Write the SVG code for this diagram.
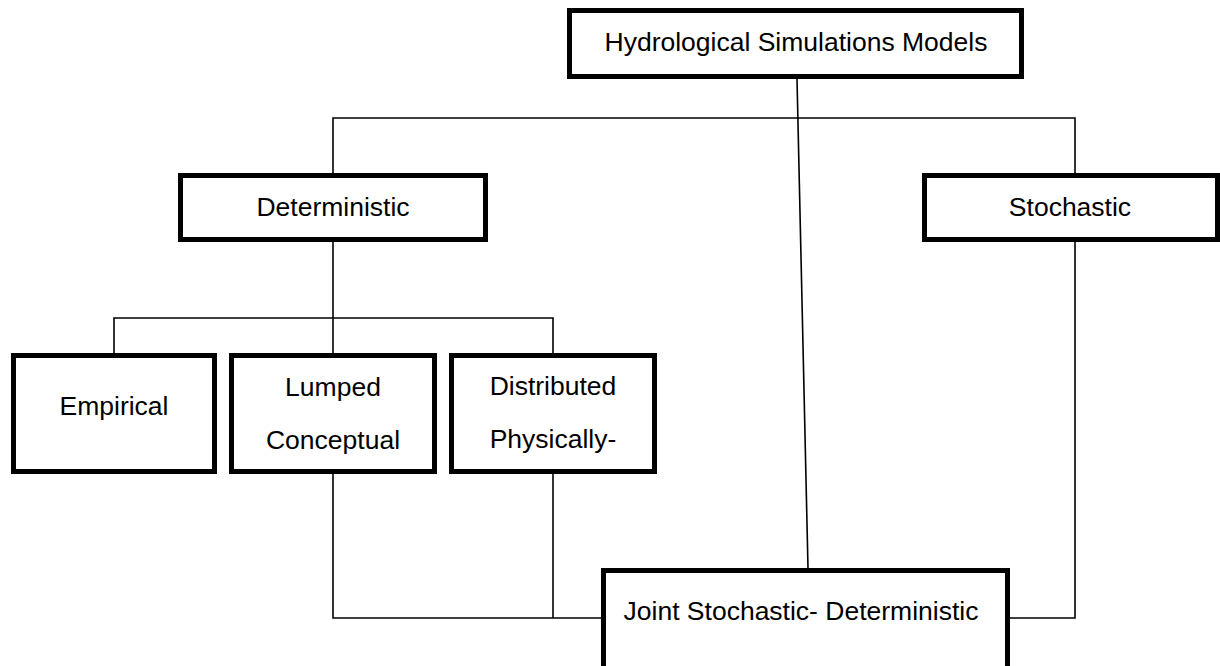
<svg xmlns="http://www.w3.org/2000/svg" width="1220" height="666" viewBox="0 0 1220 666">
<style>
.box{fill:#fff;stroke:#000;stroke-width:5}
.t{font-family:"Liberation Sans",Arial,sans-serif;font-size:26.5px;fill:#000;text-anchor:middle}
.c{fill:none;stroke:#000;stroke-width:1.6}
</style>
<rect width="1220" height="666" fill="#fff"/>
<g id="connectors">
<line class="c" x1="797" y1="79" x2="808" y2="568"/>
<polyline class="c" points="333,173 333,118 1075,118 1075,173"/>
<line class="c" x1="333" y1="242" x2="333" y2="353"/>
<polyline class="c" points="114,353 114,318 553,318 553,353"/>
<polyline class="c" points="333,474 333,618 601,618"/>
<line class="c" x1="553" y1="474" x2="553" y2="618"/>
<polyline class="c" points="1075,242 1075,618 1010,618"/>
</g>
<g id="hydro">
<rect class="box" x="569.5" y="10.5" width="452" height="66"/>
<text class="t" x="796" y="51">Hydrological Simulations Models</text>
</g>
<g id="deterministic">
<rect class="box" x="180.5" y="175.5" width="305" height="64"/>
<text class="t" x="333" y="216">Deterministic</text>
</g>
<g id="stochastic">
<rect class="box" x="924.5" y="175.5" width="293" height="64"/>
<text class="t" x="1070" y="216">Stochastic</text>
</g>
<g id="empirical">
<rect class="box" x="13.5" y="355.5" width="201" height="116"/>
<text class="t" x="114" y="415">Empirical</text>
</g>
<g id="lumped">
<rect class="box" x="231.5" y="355.5" width="203" height="116"/>
<text class="t" x="333" y="396">Lumped</text>
<text class="t" x="333" y="449">Conceptual</text>
</g>
<g id="distributed">
<rect class="box" x="451.5" y="355.5" width="203" height="116"/>
<text class="t" x="553" y="395">Distributed</text>
<text class="t" x="553" y="448">Physically-</text>
</g>
<g id="joint">
<rect class="box" x="603.5" y="570.5" width="404" height="120"/>
<text class="t" x="801" y="620">Joint Stochastic- Deterministic</text>
</g>
</svg>
